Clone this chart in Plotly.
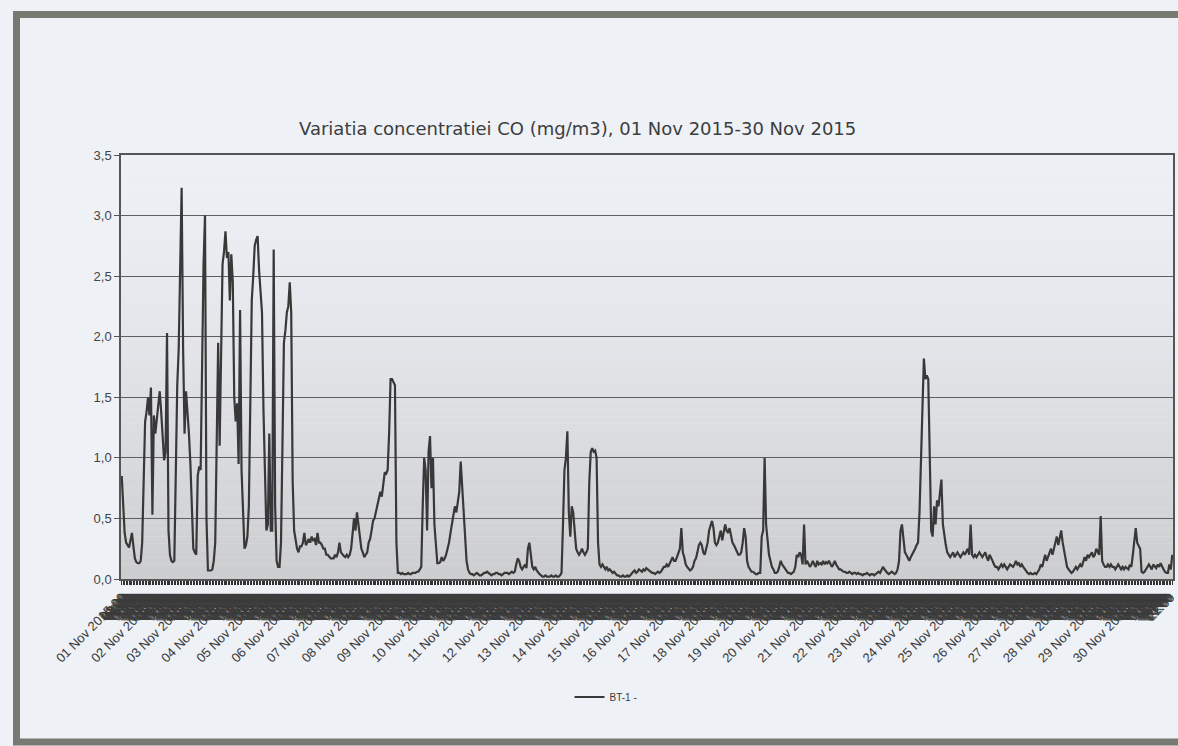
import plotly.graph_objects as go
from datetime import datetime, timedelta

# Hourly CO concentration (mg/m3), station BT-1, November 2015 — one list per day (00:00 .. 23:00)
day01 = [0.85, 0.62, 0.38, 0.30, 0.28, 0.26, 0.32, 0.38, 0.27, 0.17, 0.14, 0.13, 0.13, 0.15, 0.30, 0.90, 1.30, 1.38, 1.50, 1.35, 1.58, 0.53, 1.35, 1.20]
day02 = [1.30, 1.42, 1.55, 1.38, 1.15, 0.98, 1.05, 2.03, 0.40, 0.20, 0.15, 0.14, 0.15, 0.90, 1.60, 1.90, 2.55, 3.23, 1.90, 1.20, 1.55, 1.40, 1.20, 0.95]
day03 = [0.60, 0.25, 0.22, 0.20, 0.85, 0.93, 0.90, 1.85, 2.60, 3.00, 0.50, 0.07, 0.07, 0.07, 0.08, 0.15, 0.30, 1.00, 1.95, 1.10, 1.90, 2.60, 2.70, 2.87]
day04 = [2.65, 2.70, 2.30, 2.68, 2.45, 1.50, 1.30, 1.45, 0.95, 2.22, 0.90, 0.50, 0.25, 0.28, 0.35, 0.60, 1.60, 2.30, 2.50, 2.75, 2.80, 2.83, 2.55, 2.40]
day05 = [2.20, 1.40, 0.90, 0.40, 0.45, 1.20, 0.40, 0.40, 2.72, 0.60, 0.15, 0.10, 0.10, 0.30, 1.10, 1.95, 2.05, 2.20, 2.25, 2.45, 2.20, 0.80, 0.40, 0.30]
day06 = [0.25, 0.22, 0.27, 0.27, 0.30, 0.38, 0.28, 0.30, 0.33, 0.30, 0.35, 0.32, 0.33, 0.28, 0.38, 0.30, 0.30, 0.28, 0.25, 0.25, 0.20, 0.20, 0.18, 0.17]
day07 = [0.17, 0.17, 0.20, 0.18, 0.22, 0.30, 0.22, 0.20, 0.19, 0.18, 0.20, 0.18, 0.20, 0.25, 0.35, 0.50, 0.40, 0.55, 0.45, 0.35, 0.25, 0.22, 0.18, 0.20]
day08 = [0.22, 0.30, 0.33, 0.40, 0.48, 0.50, 0.55, 0.62, 0.66, 0.72, 0.68, 0.80, 0.88, 0.87, 0.90, 1.20, 1.65, 1.65, 1.62, 1.60, 0.30, 0.05, 0.05, 0.04]
day09 = [0.05, 0.04, 0.04, 0.04, 0.05, 0.04, 0.04, 0.05, 0.05, 0.05, 0.06, 0.06, 0.08, 0.10, 0.60, 1.00, 0.90, 0.40, 1.05, 1.18, 0.75, 1.00, 0.45, 0.30]
day10 = [0.13, 0.13, 0.14, 0.18, 0.15, 0.17, 0.20, 0.25, 0.30, 0.38, 0.45, 0.55, 0.60, 0.55, 0.65, 0.72, 0.97, 0.75, 0.55, 0.30, 0.15, 0.08, 0.05, 0.04]
day11 = [0.04, 0.03, 0.04, 0.05, 0.04, 0.03, 0.03, 0.04, 0.05, 0.05, 0.06, 0.05, 0.04, 0.03, 0.04, 0.04, 0.05, 0.05, 0.04, 0.04, 0.03, 0.04, 0.05, 0.05]
day12 = [0.05, 0.04, 0.05, 0.06, 0.05, 0.06, 0.12, 0.17, 0.15, 0.10, 0.08, 0.10, 0.12, 0.09, 0.25, 0.30, 0.18, 0.10, 0.08, 0.10, 0.07, 0.05, 0.04, 0.03]
day13 = [0.02, 0.02, 0.03, 0.02, 0.02, 0.02, 0.03, 0.02, 0.02, 0.03, 0.02, 0.02, 0.03, 0.05, 0.45, 0.90, 1.00, 1.22, 0.55, 0.35, 0.60, 0.55, 0.40, 0.25]
day14 = [0.22, 0.20, 0.22, 0.25, 0.22, 0.20, 0.22, 0.25, 0.80, 1.05, 1.08, 1.05, 1.06, 1.00, 0.30, 0.12, 0.10, 0.12, 0.10, 0.08, 0.10, 0.07, 0.08, 0.06]
day15 = [0.05, 0.06, 0.04, 0.03, 0.03, 0.02, 0.02, 0.03, 0.02, 0.02, 0.03, 0.02, 0.03, 0.05, 0.06, 0.07, 0.05, 0.06, 0.08, 0.07, 0.06, 0.08, 0.07, 0.09]
day16 = [0.08, 0.07, 0.06, 0.05, 0.05, 0.04, 0.05, 0.06, 0.05, 0.06, 0.08, 0.10, 0.10, 0.12, 0.10, 0.13, 0.15, 0.18, 0.15, 0.15, 0.18, 0.22, 0.25, 0.42]
day17 = [0.22, 0.18, 0.12, 0.10, 0.08, 0.07, 0.08, 0.10, 0.15, 0.17, 0.22, 0.28, 0.30, 0.28, 0.22, 0.20, 0.25, 0.30, 0.40, 0.45, 0.48, 0.42, 0.30, 0.28]
day18 = [0.30, 0.35, 0.40, 0.32, 0.38, 0.45, 0.40, 0.38, 0.42, 0.35, 0.30, 0.28, 0.25, 0.22, 0.20, 0.20, 0.22, 0.30, 0.42, 0.35, 0.15, 0.10, 0.08, 0.06]
day19 = [0.06, 0.05, 0.04, 0.04, 0.05, 0.05, 0.35, 0.40, 1.00, 0.45, 0.30, 0.20, 0.15, 0.10, 0.08, 0.05, 0.05, 0.06, 0.10, 0.15, 0.12, 0.10, 0.08, 0.06]
day20 = [0.05, 0.05, 0.04, 0.05, 0.06, 0.10, 0.20, 0.18, 0.22, 0.20, 0.12, 0.45, 0.12, 0.15, 0.12, 0.10, 0.12, 0.15, 0.12, 0.10, 0.15, 0.12, 0.13, 0.12]
day21 = [0.15, 0.12, 0.14, 0.13, 0.15, 0.12, 0.10, 0.12, 0.15, 0.12, 0.10, 0.08, 0.08, 0.07, 0.06, 0.06, 0.05, 0.05, 0.06, 0.05, 0.04, 0.05, 0.05, 0.04]
day22 = [0.05, 0.04, 0.04, 0.03, 0.04, 0.04, 0.05, 0.04, 0.03, 0.04, 0.04, 0.03, 0.04, 0.05, 0.06, 0.05, 0.07, 0.10, 0.08, 0.06, 0.05, 0.04, 0.05, 0.06]
day23 = [0.05, 0.04, 0.05, 0.08, 0.15, 0.40, 0.45, 0.30, 0.22, 0.20, 0.18, 0.15, 0.18, 0.20, 0.22, 0.25, 0.28, 0.30, 0.55, 1.00, 1.50, 1.82, 1.65, 1.68]
day24 = [1.65, 0.90, 0.40, 0.35, 0.60, 0.45, 0.65, 0.60, 0.70, 0.82, 0.45, 0.35, 0.28, 0.22, 0.20, 0.18, 0.20, 0.22, 0.18, 0.20, 0.22, 0.20, 0.18, 0.20]
day25 = [0.22, 0.20, 0.22, 0.25, 0.20, 0.45, 0.20, 0.18, 0.20, 0.18, 0.20, 0.22, 0.20, 0.18, 0.20, 0.22, 0.18, 0.15, 0.20, 0.18, 0.15, 0.12, 0.10, 0.10]
day26 = [0.08, 0.10, 0.12, 0.10, 0.12, 0.10, 0.08, 0.10, 0.12, 0.11, 0.10, 0.12, 0.15, 0.12, 0.13, 0.10, 0.12, 0.10, 0.08, 0.06, 0.05, 0.04, 0.05, 0.04]
day27 = [0.04, 0.05, 0.04, 0.06, 0.08, 0.12, 0.10, 0.15, 0.20, 0.15, 0.18, 0.22, 0.25, 0.20, 0.25, 0.30, 0.35, 0.28, 0.35, 0.40, 0.30, 0.22, 0.15, 0.10]
day28 = [0.08, 0.06, 0.05, 0.06, 0.08, 0.10, 0.08, 0.10, 0.12, 0.10, 0.15, 0.18, 0.15, 0.20, 0.18, 0.20, 0.22, 0.18, 0.20, 0.25, 0.22, 0.20, 0.52, 0.15]
day29 = [0.12, 0.10, 0.10, 0.12, 0.10, 0.12, 0.10, 0.10, 0.08, 0.10, 0.12, 0.10, 0.08, 0.10, 0.08, 0.10, 0.09, 0.08, 0.12, 0.10, 0.20, 0.30, 0.42, 0.30]
day30 = [0.28, 0.25, 0.06, 0.05, 0.06, 0.08, 0.10, 0.12, 0.10, 0.08, 0.12, 0.10, 0.09, 0.12, 0.10, 0.13, 0.10, 0.08, 0.06, 0.05, 0.05, 0.12, 0.08, 0.20]

days = [day01, day02, day03, day04, day05, day06, day07, day08, day09, day10,
        day11, day12, day13, day14, day15, day16, day17, day18, day19, day20,
        day21, day22, day23, day24, day25, day26, day27, day28, day29, day30]

series_name = "BT-1 -"
title_text = "Variatia concentratiei CO (mg/m3), 01 Nov 2015-30 Nov 2015"
y_ticks = [0.0, 0.5, 1.0, 1.5, 2.0, 2.5, 3.0, 3.5]

co_values = [v for d in days for v in d]
hours = list(range(len(co_values)))
start = datetime(2015, 11, 1)
hour_labels = []
for h in hours:
    t = start + timedelta(hours=h)
    hour_labels.append(t.strftime("%d Nov %Y %H") if t.hour == 0 else t.strftime("%H:00"))

# page geometry (pixels)
W, H = 1178, 746
ML, MR, MT, MB = 121, 5, 155, 167
PW = W - ML - MR
PH = H - MT - MB


def fx(px):
    return (px - ML) / PW


def fy(py):
    return (H - MB - py) / PH


fig = go.Figure()
fig.add_trace(go.Scatter(
    x=hours, y=co_values, mode="lines", name=series_name,
    line=dict(color="#383838", width=2.2),
))

shapes = []
# vertical gradient fill of the plot area
n_bands = 60
top_c = (237, 240, 245)
bot_c = (204, 205, 207)
for i in range(n_bands):
    t = i / (n_bands - 1)
    k = t ** 1.4
    c = tuple(int(round(top_c[j] + (bot_c[j] - top_c[j]) * k)) for j in range(3))
    shapes.append(dict(
        type="rect", xref="paper", yref="paper", layer="below",
        x0=0, x1=1, y0=1 - (i + 1) / n_bands, y1=1 - i / n_bands,
        fillcolor="rgb(%d,%d,%d)" % c, line=dict(width=0),
    ))
# outer frame of the chart sheet
shapes.append(dict(
    type="rect", xref="paper", yref="paper", layer="above",
    x0=fx(16.5), x1=fx(1192), y0=fy(742), y1=fy(14.5),
    line=dict(color="#767a73", width=7), fillcolor="rgba(0,0,0,0)",
))

fig.update_layout(
    width=W, height=H,
    margin=dict(l=ML, r=MR, t=MT, b=MB, autoexpand=False),
    paper_bgcolor="#eef1f6",
    plot_bgcolor="#e6e8ec",
    separators=",.",
    showlegend=True,
    legend=dict(
        orientation="h", x=fx(606), xanchor="center", y=fy(697), yanchor="middle",
        font=dict(family="Liberation Sans, Arial, sans-serif", size=10, color="#3a3a3a"),
        bgcolor="rgba(0,0,0,0)", itemwidth=30,
    ),
    shapes=shapes,
    annotations=[dict(
        text=title_text, xref="paper", yref="paper", x=fx(577), y=fy(128),
        xanchor="center", yanchor="middle", showarrow=False,
        font=dict(family="DejaVu Sans, Verdana, sans-serif", size=18, color="#3d3d3d"),
    )],
)

fig.update_xaxes(
    range=[-0.5, len(hours) - 0.5],
    tickmode="array", tickvals=hours, ticktext=hour_labels,
    tickangle=-45, ticks="outside", ticklen=4, tickwidth=1, tickcolor="#333333",
    tickfont=dict(family="Liberation Sans, Arial, sans-serif", size=13, color="#3a3a3a"),
    showgrid=False, zeroline=False, automargin=False,
    showline=True, linecolor="#555555", linewidth=1.5, mirror=True,
)
fig.update_yaxes(
    range=[0, 3.5], tickmode="array", tickvals=y_ticks, tickformat=".1f",
    ticks="outside", ticklen=5, tickcolor="#555555",
    tickfont=dict(family="Liberation Sans, Arial, sans-serif", size=13, color="#444444"),
    showgrid=True, gridcolor="#5f5f5f", gridwidth=1.3, zeroline=False, automargin=False,
    showline=True, linecolor="#555555", linewidth=1.5, mirror=True,
)

fig.write_html("out.html")
